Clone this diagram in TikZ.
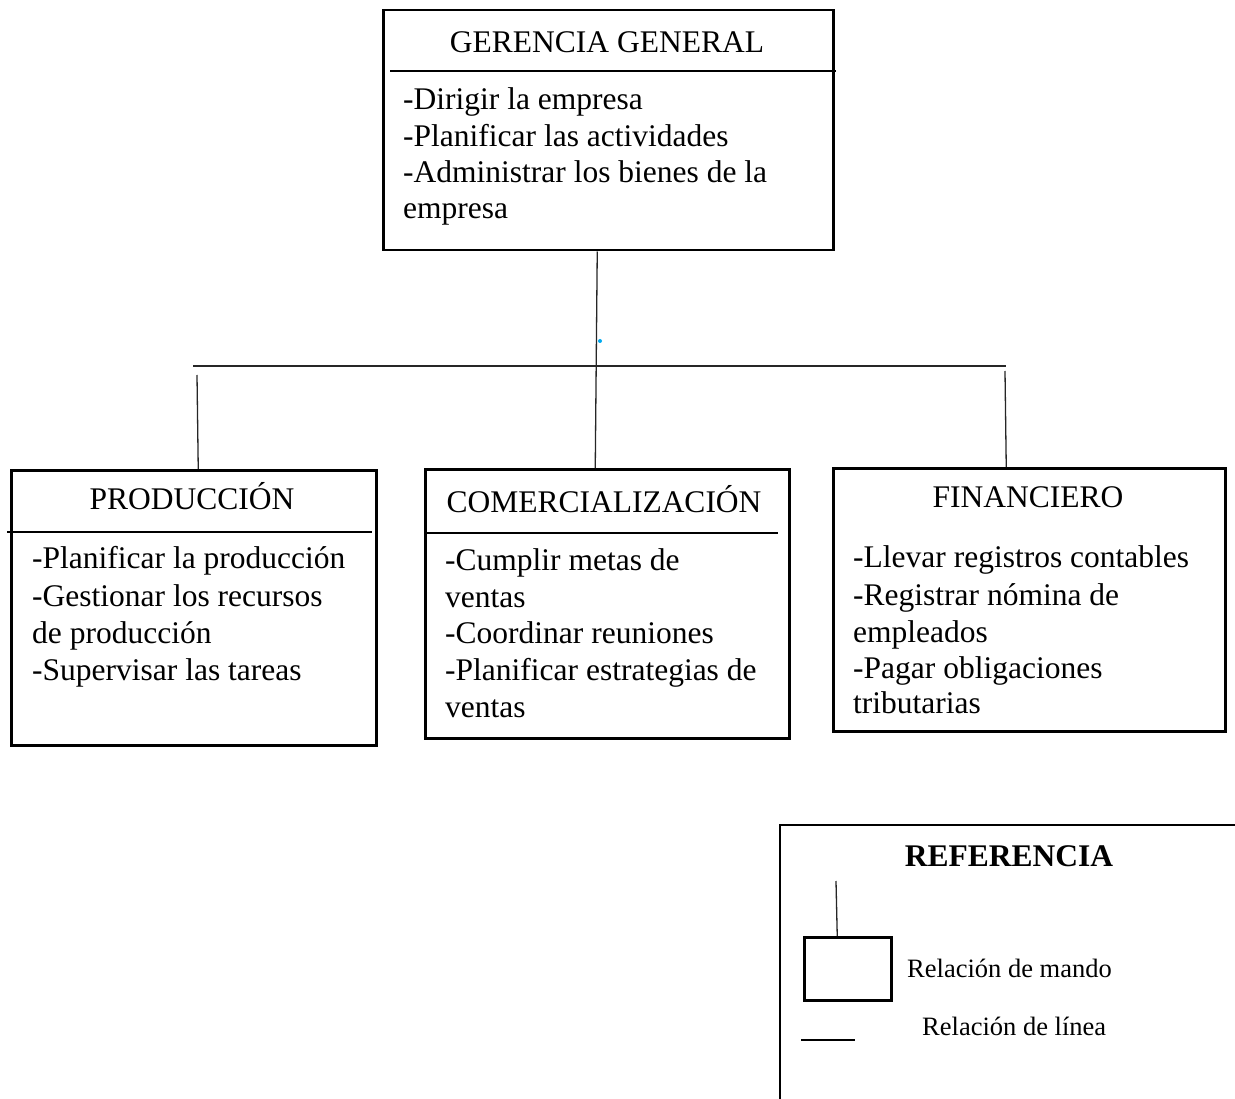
\documentclass[tikz,border=0pt]{standalone}
\usepackage{fontspec}
\setmainfont{Liberation Serif}
\definecolor{dotblue}{RGB}{0,170,240}
\tikzset{
  box/.style={draw=black, line width=2.5pt, inner sep=0pt, anchor=north west},
  conn/.style={draw=black!85, line width=1.3pt},
  divider/.style={draw=black, line width=1.3pt},
  txt/.style={anchor=base west, inner sep=0pt, font=\fontsize{31.5}{37}\selectfont},
  ttl/.style={anchor=base, inner sep=0pt, font=\fontsize{31.5}{37}\selectfont},
  legtxt/.style={anchor=base west, inner sep=0pt, font=\fontsize{26.5}{31}\selectfont}
}
\begin{document}
\begin{tikzpicture}[x=1pt,y=-1pt]
\useasboundingbox (0,0) rectangle (1235,1099);
% boxes
\node[box, minimum width=450pt, minimum height=240pt] (gg) at (382,9) {};
\node[box, minimum width=365pt, minimum height=275pt] (prod) at (10,469) {};
\node[box, minimum width=364pt, minimum height=269pt] (com) at (424,468) {};
\node[box, minimum width=392pt, minimum height=263pt] (fin) at (832,467) {};
% dividers
\draw[divider] (390,71) -- (836,71);
\draw[divider] (7,532) -- (372,532);
\draw[divider] (424,533) -- (778,533);
% titles
\node[ttl] (ggt) at (607,53) {GERENCIA GENERAL};
\node[ttl] (prodt) at (192,509) {PRODUCCIÓN};
\node[ttl] (comt) at (604,512) {COMERCIALIZACIÓN};
\node[ttl] (fint) at (1028,507) {FINANCIERO};
% gerencia text
\node[txt] (g1) at (403,110) {-Dirigir la empresa};
\node[txt] (g2) at (403,147) {-Planificar las actividades};
\node[txt] (g3) at (403,183) {-Administrar los bienes de la};
\node[txt] (g4) at (403,219) {empresa};
% produccion text
\node[txt] (p1) at (32,568) {-Planificar la producción};
\node[txt] (p2) at (32,606) {-Gestionar los recursos};
\node[txt] (p3) at (32,643) {de producción};
\node[txt] (p4) at (32,680) {-Supervisar las tareas};
% comercializacion text
\node[txt] (c1) at (445,570) {-Cumplir metas de};
\node[txt] (c2) at (445,607) {ventas};
\node[txt] (c3) at (445,643) {-Coordinar reuniones};
\node[txt] (c4) at (445,680) {-Planificar estrategias de};
\node[txt] (c5) at (445,717) {ventas};
% financiero text
\node[txt] (f1) at (853,567) {-Llevar registros contables};
\node[txt] (f2) at (853,605) {-Registrar nómina de};
\node[txt] (f3) at (853,642) {empleados};
\node[txt] (f4) at (853,678) {-Pagar obligaciones};
\node[txt] (f5) at (853,713) {tributarias};
% connectors
\coordinate (busL) at (193,366);
\coordinate (busR) at (1006,366);
\coordinate (dropL) at (197,375);
\coordinate (dropR) at (1005,371);
\draw[conn] ([xshift=-11pt]gg.south) -- ([xshift=-12pt]com.north);
\draw[conn] (busL) -- (busR);
\draw[conn] (dropL) -- ([xshift=4.5pt]prod.north);
\draw[conn] (dropR) -- ([xshift=-23pt]fin.north);
% blue dot
\fill[dotblue] (600,341) circle (2pt);
% legend
\draw[line width=2.5pt] (780,1105) -- (780,825) -- (1240,825);
\node[anchor=base, inner sep=0pt, font=\bfseries\fontsize{31.5}{37}\selectfont] (reft) at (1009,866) {REFERENCIA};
\node[box, minimum width=87pt, minimum height=63pt] (lbox) at (803,936) {};
\coordinate (ltop) at (836,881);
\draw[conn] (ltop) -- ([xshift=-10.5pt]lbox.north);
\node[legtxt] (l1) at (907,977) {Relación de mando};
\node[legtxt] (l2) at (922,1035) {Relación de línea};
\coordinate (lla) at (801,1040);
\coordinate (llb) at (855,1040);
\draw[line width=1.6pt] (lla) -- (llb);
\end{tikzpicture}
\end{document}
